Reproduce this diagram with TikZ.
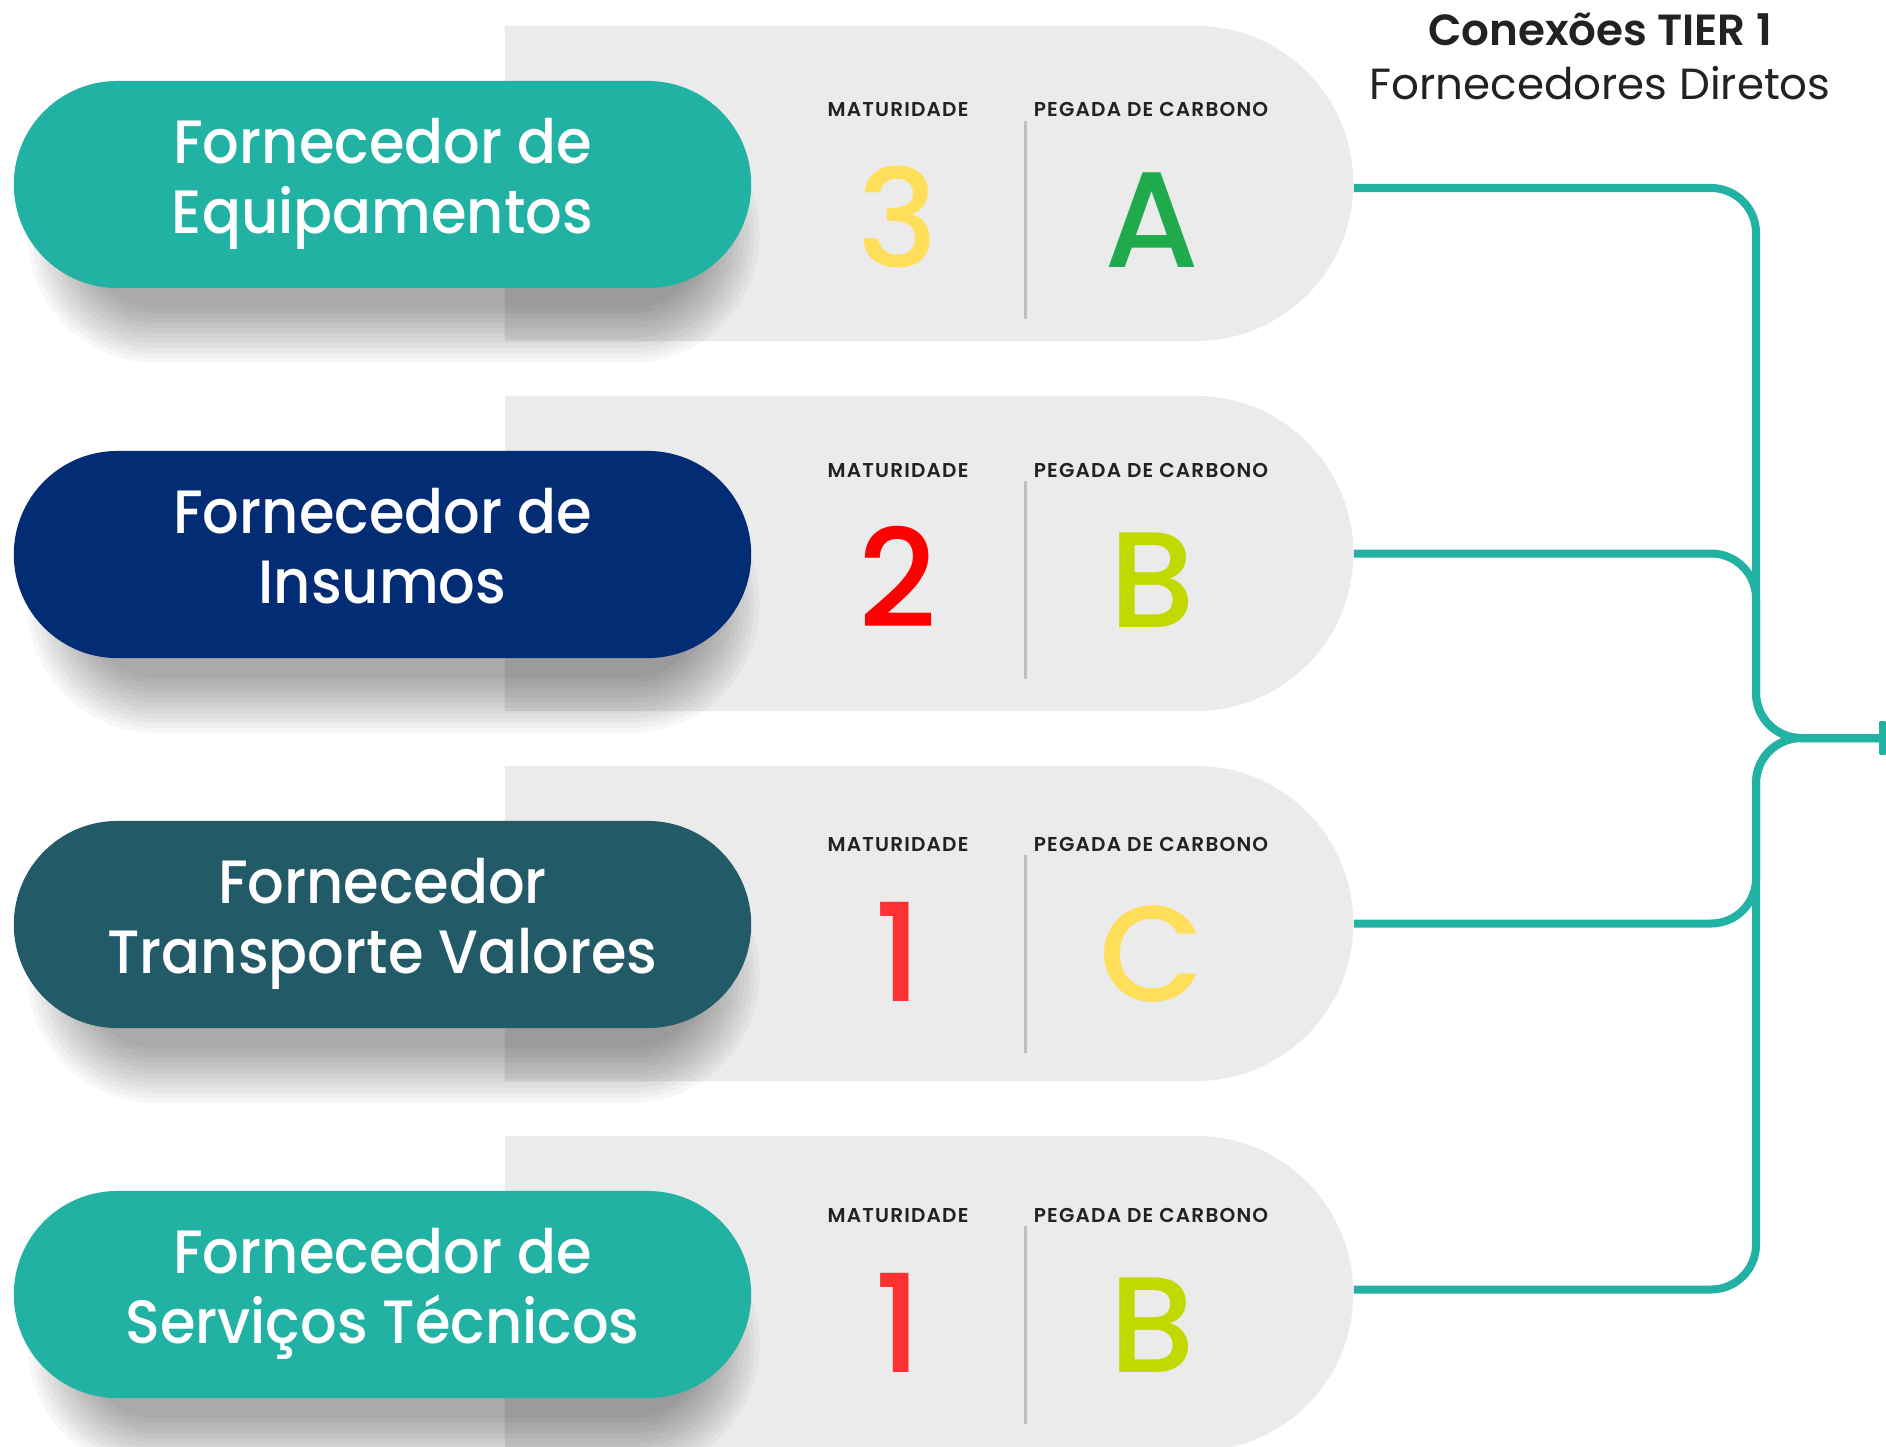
\documentclass[tikz,border=0pt]{standalone}
\usepackage{fontspec}
\setmainfont{Poppins}
\newfontfamily\popmed{Poppins Medium}
\newfontfamily\popmedn{Poppins Medium}[FakeStretch=0.94]
\newfontfamily\popsemi{Poppins SemiBold}
\newfontfamily\popsemils{Poppins SemiBold}[LetterSpace=6]
\usetikzlibrary{shapes.misc,arrows.meta}
\definecolor{tealA}{HTML}{21B2A3}
\definecolor{navyA}{HTML}{022D74}
\definecolor{dtealA}{HTML}{235A67}
\definecolor{cardg}{HTML}{EBEBEB}
\definecolor{yelA}{HTML}{FFDE59}
\definecolor{grnA}{HTML}{1FAA4B}
\definecolor{redA}{HTML}{FF0000}
\definecolor{redB}{HTML}{FF3131}
\definecolor{limeA}{HTML}{C1D900}
\definecolor{divg}{HTML}{BFBFBF}
\definecolor{inkA}{HTML}{222222}
\newcommand\pillshadow[2]{%
  \foreach \dd in {-30,-25,...,25}{%
    \pgfmathsetmacro\rr{(103.5+\dd)*0.01}%
    \fill[black, opacity=0.032, rounded corners=\rr cm]
      ({#1-330-\dd},{#2-103.5+50-\dd}) rectangle ({#1+352+\dd},{#2+103.5+50+\dd});
  }}
\tikzset{
  card/.style={rounded rectangle, rounded rectangle left arc=none, fill=cardg,
    minimum width=8.48cm, minimum height=3.15cm, inner sep=0pt},
  pill/.style={rounded rectangle, minimum width=7.37cm, minimum height=2.07cm,
    inner sep=0pt, text=white, align=center,
    font=\popmedn\fontsize{17.4}{19.9}\selectfont},
  lbl/.style={font=\popsemils\fontsize{5.7}{6}\selectfont, text=inkA, anchor=base, inner sep=0pt},
  big/.style={font=\popmed\fontsize{38.7}{40}\selectfont, anchor=base, inner sep=0pt},
  divl/.style={draw=divg, line width=0.03cm},
  conn/.style={draw=tealA, line width=0.08cm, rounded corners=0.45cm,
    -{Rectangle[length=0.065cm,width=0.33cm,round]}},
  ttl/.style={text=inkA, anchor=base, inner sep=0pt}
}
\begin{document}
\begin{tikzpicture}[x=0.01cm,y=-0.01cm]
\useasboundingbox (0,0) rectangle (1886,1446);
\clip (0,0) rectangle (1886,1446);
\fill[white] (0,0) rectangle (1886,1446);

% cards
\node[card] (c1) at (929,183.5) {};
\node[card] (c2) at (929,553.5) {};
\node[card] (c3) at (929,923.5) {};
\node[card] (c4) at (929,1293.5) {};

% shadows
\pillshadow{382.5}{184.5}
\pillshadow{382.5}{554.5}
\pillshadow{382.5}{924.5}
\pillshadow{382.5}{1294.5}

% pills
\node[pill, fill=tealA] (f1) at (382.5,184.5) {Fornecedor de\strut\\Equipamentos\strut};
\node[pill, fill=navyA] (f2) at (382.5,554.5) {Fornecedor de\strut\\Insumos\strut};
\node[pill, fill=dtealA] (f3) at (382.5,924.5) {Fornecedor\strut\\Transporte Valores\strut};
\node[pill, fill=tealA] (f4) at (382.5,1294.5) {Fornecedor de\strut\\Serviços Técnicos\strut};

% card contents
\node[lbl] (m1) at (898,117) {MATURIDADE};
\node[lbl] (p1) at (1151,117) {PEGADA DE CARBONO};
\draw[divl] (1025,121) -- (1025,319);
\node[big, text=yelA] (v1) at (898,268) {3};
\node[big, text=grnA] (g1) at (1152,268) {A};

\node[lbl] (m2) at (898,477) {MATURIDADE};
\node[lbl] (p2) at (1151,477) {PEGADA DE CARBONO};
\draw[divl] (1025,481) -- (1025,679);
\node[big, text=redA] (v2) at (898,627) {2};
\node[big, text=limeA] (g2) at (1152,627) {B};

\node[lbl] (m3) at (898,851) {MATURIDADE};
\node[lbl] (p3) at (1151,851) {PEGADA DE CARBONO};
\draw[divl] (1025,855) -- (1025,1053);
\node[big, text=redB] (v3) at (898,1001) {1};
\node[big, text=yelA] (g3) at (1152,1001) {C};

\node[lbl] (m4) at (898,1222) {MATURIDADE};
\node[lbl] (p4) at (1151,1222) {PEGADA DE CARBONO};
\draw[divl] (1025,1226) -- (1025,1424);
\node[big, text=redB] (v4) at (898,1372) {1};
\node[big, text=limeA] (g4) at (1152,1372) {B};

% title
\node[ttl, font=\popsemi\fontsize{12.4}{15}\selectfont] (t1) at (1600,46) {Conexões TIER 1};
\node[ttl, font=\fontsize{12.4}{15}\selectfont] (t2) at (1600,100) {Fornecedores Diretos};

% connectors
\coordinate (junc) at (1756,738);
\coordinate (hub) at (1885.5,738);
\draw[conn] ([yshift=-1.28pt]c1.east) -| (junc) -- (hub);
\draw[conn] (c2.east) -| (junc) -- (hub);
\draw[conn] (c3.east) -| (junc) -- (hub);
\draw[conn] ([yshift=1.14pt]c4.east) -| (junc) -- (hub);
\end{tikzpicture}
\end{document}
